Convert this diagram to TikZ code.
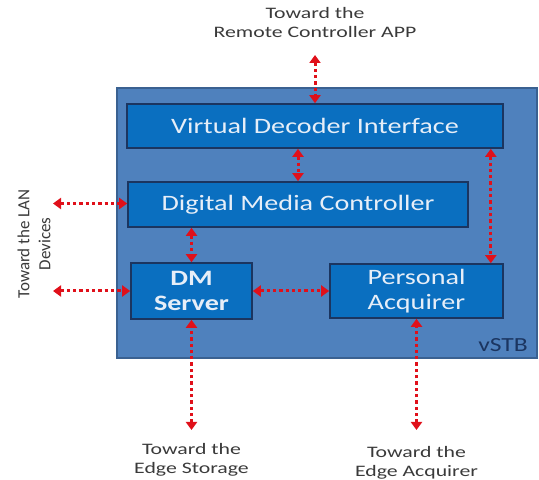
\documentclass[tikz,border=0pt]{standalone}
\usepackage{fontspec}
\setmainfont{Carlito}
\newfontfamily\boxfont[FakeStretch=1.28]{Carlito}
\newfontfamily\labelfont[FakeStretch=1.36]{Carlito}
\usepackage{tikz}
\usetikzlibrary{arrows.meta,calc}
\definecolor{stbblue}{HTML}{4F81BD}
\definecolor{stbedge}{HTML}{3A6191}
\definecolor{boxblue}{HTML}{0A6FC0}
\definecolor{boxedge}{HTML}{1B3560}
\definecolor{boxtext}{HTML}{E6EEF8}
\definecolor{linkred}{HTML}{E0101A}
\definecolor{labelgrey}{HTML}{3A3A3A}
\tikzset{
  block/.style={draw=boxedge, line width=1.6pt, fill=boxblue, text=boxtext,
    inner sep=0pt, align=center, font=\boxfont\fontsize{22}{25}\selectfont},
  link/.style={linkred, line width=3pt, dash pattern=on 3.3pt off 3pt,
    {Triangle[width=11pt,length=8pt]}-{Triangle[width=11pt,length=8pt]}},
  toward/.style={text=labelgrey, align=center, font=\labelfont\fontsize{16}{19}\selectfont}
}
\begin{document}
\begin{tikzpicture}[x=1pt,y=1pt]
  \useasboundingbox (0,0) rectangle (539,480);

  % vstb ramme
  \draw[stbedge, line width=1.2pt, fill=stbblue] (117,122) rectangle (537,392);
  \node[text=boxedge, font=\boxfont\fontsize{20}{22}\selectfont, anchor=base east, inner sep=0pt] (vstb) at (528,128) {vSTB};

  % blokker
  \node[block, minimum width=376pt, minimum height=44pt] (vdi) at (315,354) {Virtual Decoder Interface};
  \node[block, minimum width=340pt, minimum height=45pt] (dmc) at (298,275.5) {Digital Media Controller};
  \node[block, minimum width=121pt, minimum height=56pt, font=\boxfont\fontsize{22}{25}\selectfont\bfseries] (dms) at (191.5,189) {DM\\Server};
  \node[block, minimum width=173pt, minimum height=54pt] (pa) at (416.5,189) {Personal\\Acquirer};

  % ytre ender
  \coordinate (rc) at (315,425);
  \coordinate (lan1) at (53,276.5);
  \coordinate (lan2) at (53,189);
  \coordinate (es) at (191.5,50);
  \coordinate (ea) at (416.5,50);

  % tekster (base = siste linje)
  \node[toward, anchor=base] (rclabel) at (315,442) {Toward the\\Remote Controller APP};
  \node[toward, rotate=90, font=\fontsize{17}{21}\selectfont] (lanlabel) at (34,236) {Toward the LAN\\Devices};
  \node[toward, anchor=base] (eslabel) at (191.5,6) {Toward the\\Edge Storage};
  \node[toward, anchor=base] (ealabel) at (416.5,4) {Toward the\\Edge Acquirer};

  % piler
  \draw[link] (rc) -- (vdi.north);
  \draw[link] (vdi.south -| dmc.north) -- (dmc.north);
  \draw[link] ([xshift=-13pt]vdi.south east) -- ([xshift=-13pt]pa.north east);
  \draw[link] (dmc.south -| dms.north) -- (dms.north);
  \draw[link] (dms.east) -- (pa.west);
  \draw[link] (lan1) -- (lan1 -| dmc.west);
  \draw[link] (lan2) -- (dms.west);
  \draw[link] (es) -- (dms.south);
  \draw[link] (ea) -- (pa.south);
\end{tikzpicture}
\end{document}
